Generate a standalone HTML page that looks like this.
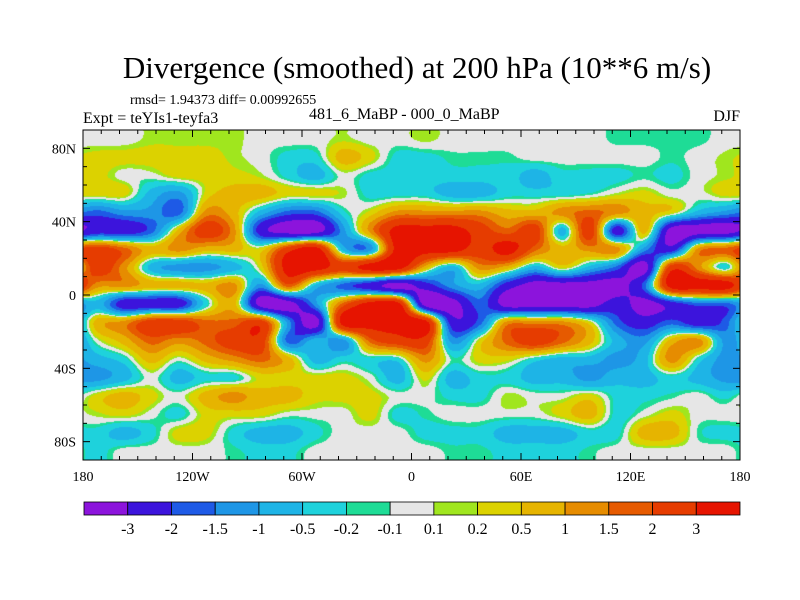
<!DOCTYPE html>
<html><head><meta charset="utf-8"><style>
body{margin:0;background:#fff;width:800px;height:600px;position:relative;overflow:hidden;font-family:"Liberation Serif",serif;}
.t{position:absolute;white-space:nowrap;color:#000;}
</style></head><body>
<div class="t" style="left:0;width:834px;text-align:center;top:50px;font-size:31px;">Divergence (smoothed) at 200 hPa (10**6 m/s)</div>
<div class="t" style="left:130px;top:93px;font-size:14px;">rmsd= 1.94373 diff= 0.00992655</div>
<div class="t" style="left:83px;top:110px;font-size:16px;">Expt = teYIs1-teyfa3</div>
<div class="t" style="left:309px;top:106px;font-size:16px;">481_6_MaBP - 000_0_MaBP</div>
<div class="t" style="right:60px;top:108px;font-size:16px;">DJF</div>
<canvas id="map" width="657" height="330" style="position:absolute;left:83px;top:130px;"></canvas>
<svg id="ov" width="800" height="600" style="position:absolute;left:0;top:0;"></svg>
<script>
const levels=[-3,-2,-1.5,-1,-0.5,-0.2,-0.1,0.1,0.2,0.5,1,1.5,2,3];
const levelLabels=["-3","-2","-1.5","-1","-0.5","-0.2","-0.1","0.1","0.2","0.5","1","1.5","2","3"];
const colors=["#8c14dc","#3c14dc","#1e5ae6","#1e96e6","#1eb4e6","#1ed2dc","#1edc96","#e6e6e6","#a0e61e","#dcd200","#e6b400","#e68c00","#e65a00","#e63c00","#e61400"];
const lats=[85,75,65,55,45,35,25,15,5,-5,-15,-25,-35,-45,-55,-65,-75,-85];
const lons=[-172.5,-157.5,-142.5,-127.5,-112.5,-97.5,-82.5,-67.5,-52.5,-37.5,-22.5,-7.5,7.5,22.5,37.5,52.5,67.5,82.5,97.5,112.5,127.5,142.5,157.5,172.5];
const field=[
[0,0,0.15,0.15,0.15,0.15,0,0,0,0.15,0,0, 0.15,0,0,0,0,0,0,-0.15,-0.15,-0.15,-0.15,0],
[0.3,0.3,0.3,0.3,0.3,0.15,0,-0.3,-0.3,0.7,0.3,-0.3, -0.3,-0.15,-0.15,-0.15,0,0,0,0,0,-0.15,0,0.15],
[0.3,0,0,0.3,0.3,0.3,0.15,-0.3,-0.7,0,-0.3,-0.3, -0.3,-0.3,-0.3,-0.3,-0.7,-0.3,-0.3,-0.3,-0.15,-0.3,0,0.15],
[0.3,0.3,-0.7,-1.2,0.3,0.7,0.7,0.3,0.3,0.15,-0.3,-0.3, -0.3,-0.7,-0.7,-0.3,-0.3,-0.3,-0.15,0.15,0.3,0,0,0.3],
[-1.7,-1.2,-1.2,-1.7,1.2,0.7,-0.7,-1.7,-1.7,-0.3,0.3,1.2, 1.2,1.2,1.2,0.7,0.7,1.2,1.7,1.2,0.7,0.3,-0.7,-1.2],
[-2.5,-2.5,-1.7,0.7,2.5,1.2,-2.5,-3.5,-3.5,-1.2,1.2,3.5, 3.5,3.5,2.5,1.7,2.5,-0.7,2.5,-2.5,0.7,-3.5,-3.5,-3.5],
[2.5,1.7,0.7,1.2,0.7,0.7,0.3,2.5,3.5,-0.7,-1.2,3.5, 3.5,3.5,2.5,3.5,1.7,0.7,1.2,1.2,-1.2,-2.5,1.2,1.7],
[2.5,1.2,-0.7,-1.2,-1.2,-0.7,0.3,3.5,3.5,2.5,3.5,3.5, 0.7,-0.7,1.2,0.7,-0.7,0.3,-0.7,-1.7,-3.5,2.5,1.2,-0.3],
[1.2,1.2,0.7,0.7,0.7,1.2,-1.2,1.7,-0.7,-1.7,-2.5,-3.5, -2.5,-1.2,-0.7,-2.5,-3.5,-3.5,-3.5,-3.5,-1.7,3.5,3.5,3.5],
[-0.7,-2.5,-2.5,-2.5,-0.3,0.7,-3.5,-3.5,-1.2,1.7,3.5,3.5, -3.5,-3.5,-1.7,-3.5,-3.5,-3.5,-3.5,-2.5,-3.5,-2.5,-1.7,-1.7],
[0.7,1.2,2.5,2.5,1.7,1.7,2.5,-1.2,-3.5,3.5,3.5,3.5, 3.5,-2.5,-1.7,1.2,1.2,1.2,0.3,-1.7,-2.5,-1.7,-2.5,-1.7],
[0,0.7,1.7,1.2,1.7,2.5,2.5,-1.7,-0.7,-1.2,1.7,2.5, 2.5,-1.2,0.3,1.7,2.5,1.7,0.7,-0.7,-1.2,0.7,1.2,-1.2],
[-0.7,-0.3,0.7,0,0.7,1.2,1.7,0.7,-0.7,-0.3,-0.3,-0.3, 1.2,-0.15,0.3,0.3,-0.3,-0.7,-0.7,-1.2,-0.7,1.2,-0.3,-1.2],
[-1.2,-0.7,0,-0.7,-0.3,-0.3,0.3,0.3,0.3,0.3,0,-0.7, 0.3,-0.7,-0.3,-0.3,-0.7,-0.7,-1.2,-0.7,-0.7,-0.3,-0.7,-1.2],
[0.3,0.7,0.3,0,0.7,1.2,0.7,0.7,0.3,0.3,0.3,0, 0,-0.3,-0.3,0.15,0,0,0.3,-0.3,-0.3,-0.15,0,-0.3],
[0.15,0.3,0,-0.3,0.3,0.3,0.3,0,0,0,0.3,-0.3, -0.15,0,0,0,0,0.3,0.7,-0.3,0,0.3,0,0],
[-0.3,-0.7,-0.3,0.3,0.3,-0.3,-0.7,-0.7,-0.3,0,0,0, -0.3,-0.3,-0.3,-0.7,-0.7,-0.7,-0.3,-0.3,0.7,0.7,-0.15,-0.3],
[-0.3,0,0,0,0,-0.15,-0.3,-0.3,0,0,0,0, 0,-0.15,-0.15,-0.3,-0.3,-0.3,-0.15,0,0,0,0,0]
];
const xTicks=[-180,-120,-60,0,60,120,180];
const xTickLabels=["180","120W","60W","0","60E","120E","180"];
const yTicks=[80,40,0,-40,-80];
const yTickLabels=["80N","40N","0","40S","80S"];

const X0=83,X1=740,Y0=130,Y1=460;
const xs=lon=>X0+(lon+180)/360*(X1-X0);
const ys=lat=>Y0+(90-lat)/180*(Y1-Y0);
function colorFor(v){let i=0;while(i<levels.length&&v>=levels[i])i++;return colors[i];}
function hex(c){return [parseInt(c.substr(1,2),16),parseInt(c.substr(3,2),16),parseInt(c.substr(5,2),16)];}
const rgb=colors.map(hex);
function cr(p0,p1,p2,p3,t){return 0.5*((2*p1)+(-p0+p2)*t+(2*p0-5*p1+4*p2-p3)*t*t+(-p0+3*p1-3*p2+p3)*t*t*t);}
function sample(fr,fc){
  const nr=lats.length,nc=lons.length;
  const r=Math.floor(fr),c=Math.floor(fc),tr=fr-r,tc=fc-c;
  const g=(i,j)=>field[Math.max(0,Math.min(nr-1,i))][((j%nc)+nc)%nc];
  const rows=[];
  for(let k=-1;k<=2;k++)rows.push(cr(g(r+k,c-1),g(r+k,c),g(r+k,c+1),g(r+k,c+2),tc));
  return cr(rows[0],rows[1],rows[2],rows[3],tr);
}
const cv=document.getElementById('map'),ctx=cv.getContext('2d');
const W=cv.width,H=cv.height,img=ctx.createImageData(W,H);
const dLat=lats[0]-lats[1],dLon=lons[1]-lons[0];
for(let py=0;py<H;py++){
  const lat=90-(py+0.5)/H*180,fr=(lats[0]-lat)/dLat;
  for(let px=0;px<W;px++){
    const lon=-180+(px+0.5)/W*360,fc=(lon-lons[0])/dLon;
    const v=sample(fr,fc);let i=0;while(i<levels.length&&v>=levels[i])i++;
    const q=(py*W+px)*4,cc=rgb[i];img.data[q]=cc[0];img.data[q+1]=cc[1];img.data[q+2]=cc[2];img.data[q+3]=255;
  }
}
ctx.putImageData(img,0,0);

const NS='http://www.w3.org/2000/svg',svg=document.getElementById('ov');
function mk(tag,attrs){const e=document.createElementNS(NS,tag);for(const k in attrs)e.setAttribute(k,attrs[k]);svg.appendChild(e);return e;}
const frame=mk('rect',{x:X0,y:Y0,width:X1-X0,height:Y1-Y0,fill:'none',stroke:'#000','stroke-width':1});


for(let lon=-180;lon<=180;lon+=10){const x=xs(lon),L=lon%60===0?7:4;
  mk('line',{x1:x,x2:x,y1:Y1,y2:Y1-L,stroke:'#000'});mk('line',{x1:x,x2:x,y1:Y0,y2:Y0+L,stroke:'#000'});}
for(let lat=-90;lat<=90;lat+=10){const y=ys(lat),L=lat%40===0?7:4;
  mk('line',{x1:X0,x2:X0+L,y1:y,y2:y,stroke:'#000'});mk('line',{x1:X1,x2:X1-L,y1:y,y2:y,stroke:'#000'});}
xTicks.forEach((v,i)=>{const t=mk('text',{x:xs(v),y:481,'text-anchor':'middle','font-size':14,'font-family':'Liberation Serif'});t.textContent=xTickLabels[i];
  
  });
yTicks.forEach((v,i)=>{const t=mk('text',{x:76,y:ys(v)+5,'text-anchor':'end','font-size':14,'font-family':'Liberation Serif'});t.textContent=yTickLabels[i];
  
  });
// colorbar
const CB0=84,CB1=740,CBY=502,CBH=13,bw=(CB1-CB0)/colors.length;
colors.forEach((c,i)=>{const r=mk('rect',{x:CB0+i*bw,y:CBY,width:bw,height:CBH,fill:c,stroke:'#000','stroke-width':0.8});
  
  });
levelLabels.forEach((s,i)=>{const t=mk('text',{x:CB0+(i+1)*bw,y:534,'text-anchor':'middle','font-size':16,'font-family':'Liberation Serif'});t.textContent=s;
  
  });
</script>
</body></html>
